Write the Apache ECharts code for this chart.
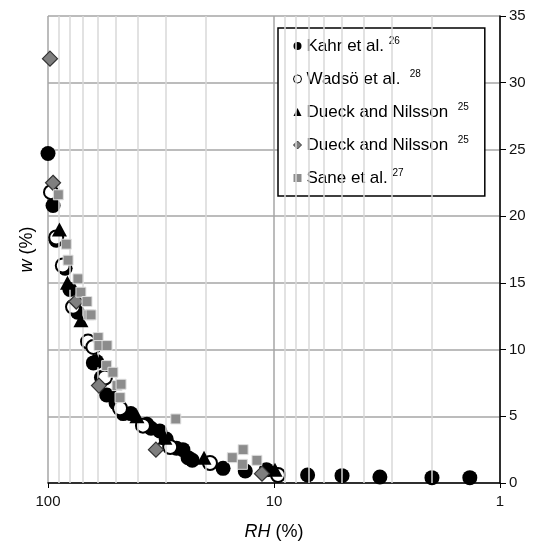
<!DOCTYPE html>
<html>
<head>
<meta charset="utf-8">
<script src="https://cdn.jsdelivr.net/npm/echarts@6/dist/echarts.min.js"></script>
<style>
  html, body { margin: 0; padding: 0; background: #fff; }
  #main { width: 541px; height: 547px; }
</style>
</head>
<body>
<div id="main"></div>
<script type="text/javascript">
// data: [RH (%), w (%)]
var kahr = [[100,24.7],[95,20.8],[92,18.2],[84,16.1],[80,14.5],[74,12.8],[63,9.0],[61,9.1],[58,7.9],[55,6.6],
  [50,6.0],[46.5,5.2],[43,5.2],[36.5,4.4],[35,4.1],[32,3.9],[30,3.3],[27,2.6],[25.3,2.5],[24,1.9],[23,1.7],
  [16.8,1.1],[13.4,0.9],[10.8,1.0],[7.1,0.6],[5.0,0.55],[3.4,0.45],[2.0,0.4],[1.36,0.4]];
var wadso = [[97,21.8],[92,18.4],[86,16.3],[77.5,13.2],[66.5,10.6],[63,10.2],[56,7.9],[48,5.6],[38,4.3],
  [28.8,2.7],[19.2,1.5],[9.6,0.6]];
var dueckA = [[89,19.0],[82,15.0],[71.5,12.2],[61,9.2],[51,6.6],[40.4,5.0],[30.4,3.4],[20.4,1.9],[9.9,1.0]];
var dueckB = [[98,31.8],[95,22.5],[75,13.6],[59.5,7.3],[33.3,2.5],[11.3,0.7]];
var sane = [[90,21.6],[83,17.9],[81.5,16.7],[73.7,15.3],[71.5,14.3],[67.2,13.6],[65.9,12.6],[64.5,12.6],
  [60,10.9],[59.5,10.3],[54.8,10.3],[55,8.8],[51.6,8.3],[49.5,7.3],[47.5,7.4],[48,6.4],[27.2,4.8],
  [15.3,1.9],[13.7,2.5],[13.8,1.4],[11.9,1.7]];

var legendNames = ['Kahr et al.', 'Wadsö et al.', 'Dueck and Nilsson', 'Dueck and Nilsson ', 'Sane et al.'];
var legendRefs = ['26', '28', '25', '25', '27'];
var legendGaps = [' ', '  ', '  ', '  ', ' '];

// minor log grid lines
var gridRH = [2,3,4,5,6,7,8,9,20,30,40,50,60,70,80,90];

var myChart = echarts.init(document.getElementById('main'));
var font = 'Liberation Sans, Arial, sans-serif';

var option = {
  animation: false,
  textStyle: { fontFamily: font },
  grid: { left: 48, right: 41, top: 16, bottom: 64 },
  legend: {
    orient: 'vertical',
    left: 278, top: 28,
    data: [
      { name: legendNames[0] },
      { name: legendNames[1], itemStyle: { borderWidth: 1 } },
      { name: legendNames[2] },
      { name: legendNames[3], itemStyle: { borderWidth: 1 } },
      { name: legendNames[4], itemStyle: { borderWidth: 0 } }
    ],
    backgroundColor: '#fff',
    borderColor: '#000',
    borderWidth: 1.5,
    borderRadius: 0,
    padding: [8, 16, 8, 15],
    itemGap: 13,
    itemWidth: 8,
    itemHeight: 8,
    formatter: function (name) {
      var i = legendNames.indexOf(name);
      return '{n|' + name.trim() + legendGaps[i] + '}{s|' + legendRefs[i] + '}';
    },
    textStyle: {
      rich: {
        n: { fontFamily: font, fontSize: 17, color: '#000', lineHeight: 20 },
        s: { fontFamily: font, fontSize: 10, color: '#000', verticalAlign: 'top', lineHeight: 20, padding: [0, 0, 10, 0] }
      }
    }
  },
  xAxis: {
    type: 'log', logBase: 10, min: 1, max: 100, inverse: true,
    name: '{i|RH} (%)', nameLocation: 'middle', nameGap: 40,
    nameTextStyle: { fontFamily: font, fontSize: 18, color: '#000', rich: { i: { fontFamily: font, fontSize: 18, fontStyle: 'italic', color: '#000' } } },
    axisLine: { lineStyle: { color: '#000', width: 1.5 } },
    axisTick: { show: true, length: 5, lineStyle: { color: '#000' } },
    axisLabel: { fontFamily: font, fontSize: 15, color: '#111', margin: 11 },
    splitLine: { show: true, lineStyle: { color: '#a6a6a6', width: 1.5 } }
  },
  yAxis: [{
    type: 'value', position: 'right', min: 0, max: 35, interval: 5,
    axisLine: { show: true, lineStyle: { color: '#000', width: 1.5 } },
    axisTick: { show: true, inside: false, length: 6, lineStyle: { color: '#000' } },
    axisLabel: { fontFamily: font, fontSize: 15, color: '#111', margin: 9 },
    splitLine: { show: true, lineStyle: { color: '#a6a6a6', width: 1.5 } }
  }, {
    type: 'value', position: 'left', min: 0, max: 35,
    name: '{i|w} (%)', nameLocation: 'middle', nameGap: 12, nameRotate: 90,
    nameTextStyle: { fontFamily: font, fontSize: 18, color: '#000', rich: { i: { fontFamily: font, fontSize: 18, fontStyle: 'italic', color: '#000' } } },
    axisLine: { show: false }, axisTick: { show: false }, axisLabel: { show: false },
    splitLine: { show: false }
  }],
  series: [
    {
      type: 'line', data: [], z: 1, silent: true,
      markLine: {
        silent: true, symbol: 'none', label: { show: false },
        lineStyle: { color: '#d9d9d9', width: 1.5, type: 'solid' },
        data: gridRH.map(function (v) { return { xAxis: v }; })
      }
    },
    {
      name: legendNames[0], type: 'scatter', data: kahr, z: 3,
      symbol: 'circle', symbolSize: 15,
      itemStyle: { color: '#000', opacity: 1 }
    },
    {
      name: legendNames[1], type: 'scatter', data: wadso, z: 4,
      symbol: 'circle', symbolSize: 14,
      itemStyle: { color: '#fff', borderColor: '#000', borderWidth: 2, opacity: 1 }
    },
    {
      name: legendNames[2], type: 'scatter', data: dueckA, z: 5,
      symbol: 'triangle', symbolSize: [15, 14],
      itemStyle: { color: '#000', opacity: 1 }
    },
    {
      name: legendNames[3], type: 'scatter', data: dueckB, z: 6,
      symbol: 'diamond', symbolSize: 15,
      itemStyle: { color: '#7f7f7f', borderColor: '#333', borderWidth: 1.2, opacity: 1 }
    },
    {
      name: legendNames[4], type: 'scatter', data: sane, z: 7,
      symbol: 'rect', symbolSize: 10,
      itemStyle: { color: '#8c8c8c', borderColor: '#e0e0e0', borderWidth: 1, opacity: 1 }
    }
  ]
};

myChart.setOption(option);
</script>
</body>
</html>
